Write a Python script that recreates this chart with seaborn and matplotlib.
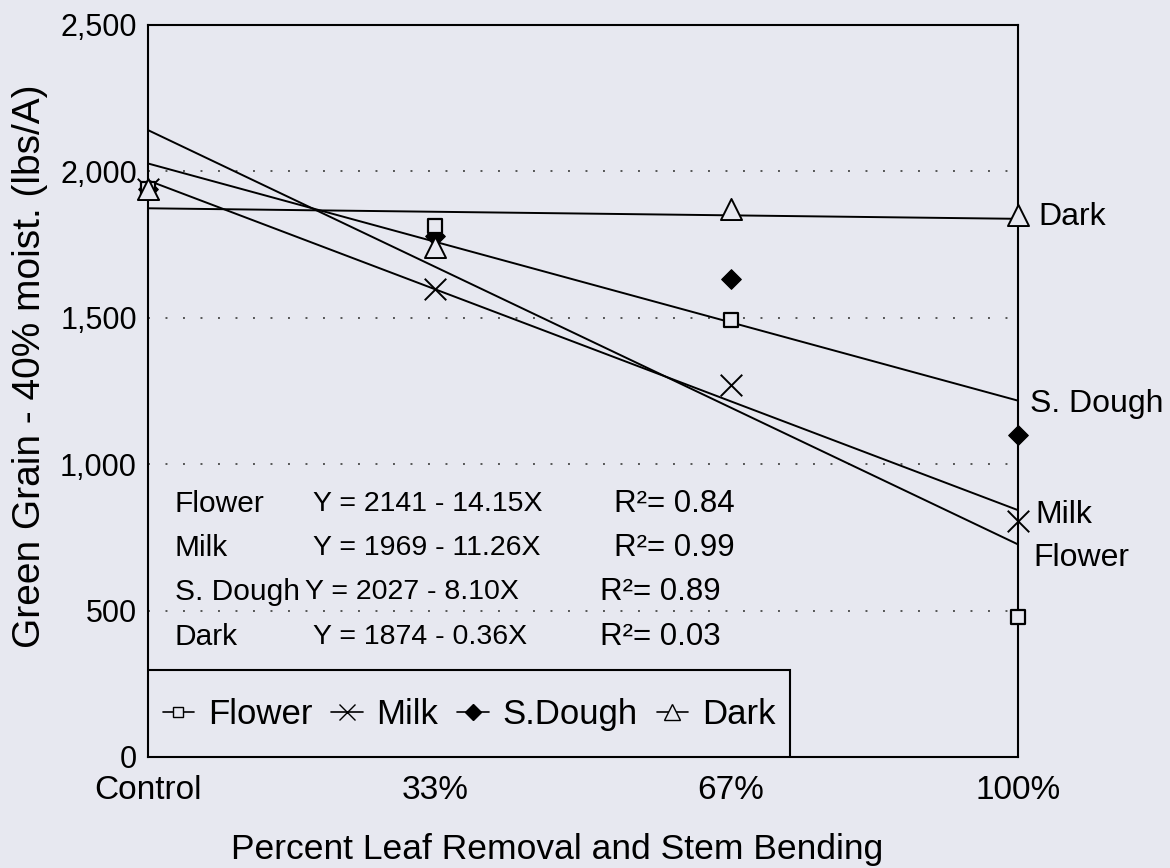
import matplotlib
matplotlib.use("Agg")
import matplotlib.pyplot as plt
from matplotlib.lines import Line2D
from matplotlib.patches import Rectangle
import numpy as np
import pandas as pd
import seaborn as sns

# Treatment levels (percent leaf removal / stem bending)
x_pct = [0, 33, 67, 100]
x_labels = ["Control", "33%", "67%", "100%"]

# Green grain yield at 40% moisture (lbs/A) by growth stage
flower = [1940, 1812, 1492, 478]
milk = [1940, 1597, 1272, 805]
s_dough = [1940, 1778, 1634, 1100]
dark = [1940, 1742, 1870, 1850]

# Linear fits: Y = a - bX
stages = ["Flower", "Milk", "S. Dough", "Dark"]
legend_names = ["Flower", "Milk", "S.Dough", "Dark"]
intercepts = [2141, 1969, 2027, 1874]
slopes = [14.15, 11.26, 8.10, 0.36]
r_squared = ["0.84", "0.99", "0.89", "0.03"]

sns.set_theme(style="white")
plt.rcParams["font.family"] = ["Liberation Sans", "DejaVu Sans"]
for key in ["text.color", "axes.labelcolor", "xtick.color", "ytick.color"]:
    plt.rcParams[key] = "black"

bg = "#e7e8f0"
fig = plt.figure(figsize=(11.7, 8.68), dpi=100, facecolor=bg)
ax = fig.add_axes([0.1265, 0.1279, 0.7436, 0.8433], facecolor=bg)

ax.set_xlim(0, 100)
ax.set_ylim(0, 2500)

# dotted reference lines
for yv in [500, 1000, 1500, 2000]:
    ax.axhline(yv, color="#555555", lw=1.4, ls=(0, (1, 8)), zorder=1)

# regression lines
xs = np.array([0, 100])
for a, b in zip(intercepts, slopes):
    fit = pd.DataFrame({"x": xs, "y": a - b * xs})
    sns.lineplot(data=fit, x="x", y="y", color="black", lw=1.4, ax=ax, zorder=2)

# observed means; open markers are filled with the background so they sit on top
layers = [
    (milk, dict(marker="x", s=240, color="black", linewidth=1.4)),
    (s_dough, dict(marker="D", s=100, color="black", edgecolor="black")),
    (flower, dict(marker="s", s=100, facecolor=bg, edgecolor="black", linewidth=1.6)),
    (dark, dict(marker="^", s=230, facecolor=bg, edgecolor="black", linewidth=1.4)),
]
for z, (vals, st) in enumerate(layers):
    df = pd.DataFrame({"x": x_pct, "y": vals})
    sns.scatterplot(data=df, x="x", y="y", ax=ax, zorder=3 + z * 0.1, clip_on=False,
                    legend=False, **st)

# equation block
row_y = [865, 715, 565, 410]
eq_x = [19.0, 19.0, 18.0, 19.0]
r2_x = [53.6, 53.6, 52.0, 52.0]
for name, a, b, r2, yy, ex, rx in zip(stages, intercepts, slopes, r_squared, row_y, eq_x, r2_x):
    ax.text(3.1, yy, name, fontsize=21.5, va="center", ha="left")
    ax.text(ex, yy, f"Y = {a} - {b:.2f}X", fontsize=20.5, va="center", ha="left")
    ax.text(rx, yy, f"R\u00b2= {r2}", fontsize=22.5, va="center", ha="left")

# series labels at the right edge
end_labels = [("Dark", 1844, 102.3), ("S. Dough", 1206, 101.4), ("Milk", 826, 102.0), ("Flower", 680, 101.8)]
for txt, yy, xx in end_labels:
    ax.text(xx, yy, txt, fontsize=23, va="center", ha="left", clip_on=False)

# legend box
ax.add_patch(Rectangle((0, 0), 0.738, 0.119, transform=ax.transAxes,
                       facecolor=bg, edgecolor="black", lw=1.5, zorder=4))
handles = [
    Line2D([], [], color="black", lw=1.2, marker="s", ms=7, mfc=bg, mec="black"),
    Line2D([], [], color="black", lw=1.2, marker="x", ms=12, mec="black"),
    Line2D([], [], color="black", lw=1.2, marker="D", ms=8, mfc="black", mec="black"),
    Line2D([], [], color="black", lw=1.2, marker="^", ms=11, mfc=bg, mec="black"),
]
leg = ax.legend(handles, legend_names, loc="center", bbox_to_anchor=(0.369, 0.058),
                bbox_transform=ax.transAxes, ncol=4, frameon=False, fontsize=25,
                handlelength=0.9, handletextpad=0.4, columnspacing=0.55)
leg.set_zorder(5)

ax.set_xticks(x_pct)
ax.set_xticklabels(x_labels)
ax.set_yticks([0, 500, 1000, 1500, 2000, 2500])
ax.set_yticklabels(["0", "500", "1,000", "1,500", "2,000", "2,500"])
ax.tick_params(axis="x", length=0, pad=13, labelsize=24)
ax.tick_params(axis="y", length=0, pad=8, labelsize=22)

ax.set_xlabel("Percent Leaf Removal and Stem Bending", fontsize=25.5, va="center")
ax.xaxis.set_label_coords(0.47, -0.127)
ax.set_ylabel("Green Grain - 40% moist. (lbs/A)", fontsize=28, va="center", ha="center")
ax.yaxis.set_label_coords(-0.1356, 0.534)

for sp in ax.spines.values():
    sp.set_visible(True)
    sp.set_color("black")
    sp.set_linewidth(1.5)

fig.savefig("out.png", dpi=100, facecolor=bg)
